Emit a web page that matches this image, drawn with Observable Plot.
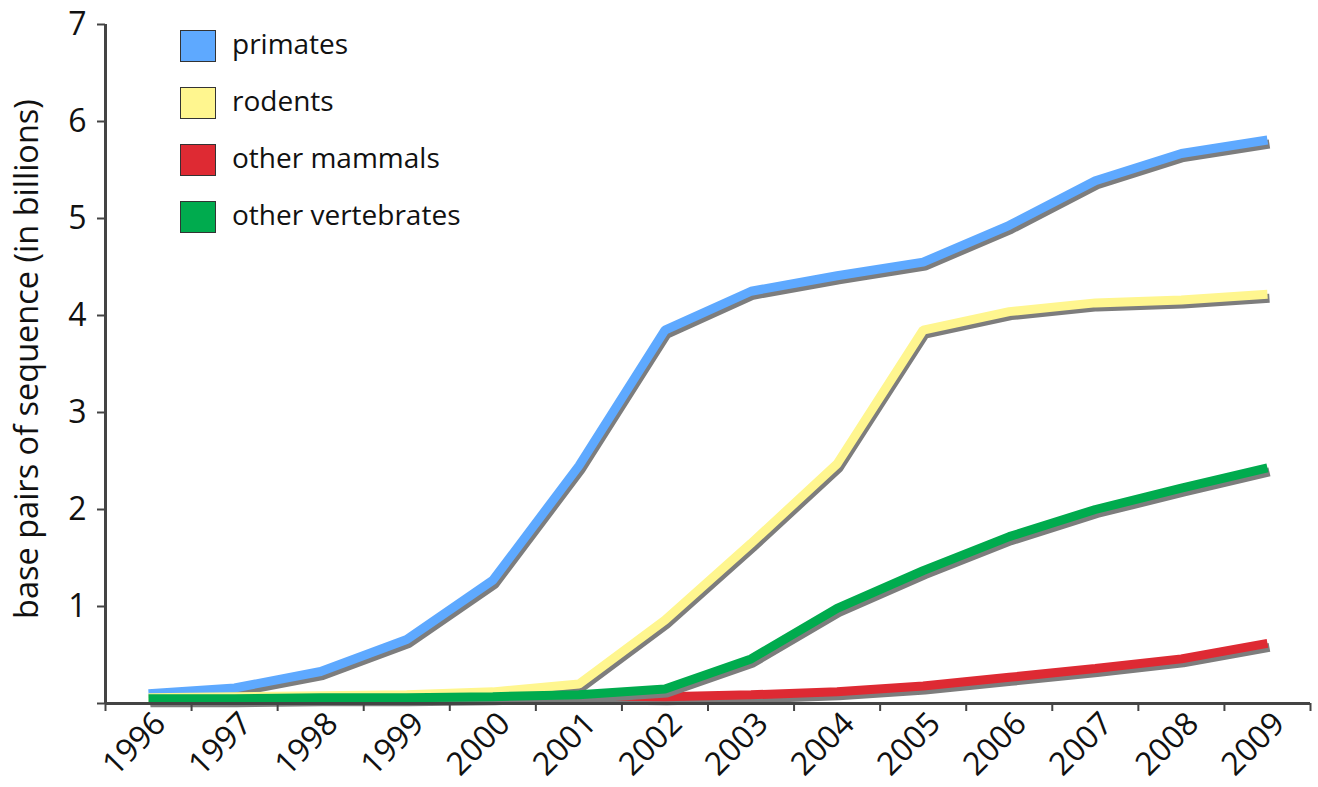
<!DOCTYPE html>
<html><head><meta charset="utf-8">
<script src="https://cdn.jsdelivr.net/npm/d3@7"></script>
<script src="https://cdn.jsdelivr.net/npm/@observablehq/plot@0.6"></script>
<style>
body{margin:0;background:#fff;}
#wrap{position:relative;width:1318px;height:787px;font-family:"Open Sans",sans-serif;}
.legend{position:absolute;left:180px;top:30px;}
.item{position:absolute;left:0;height:32px;white-space:nowrap;}
.sw{position:absolute;left:0;top:0;width:34px;height:30px;border:1px solid #333;}
.lb{position:absolute;left:52px;top:-3px;font-size:28px;line-height:32px;color:#111;}
</style></head><body><div id="wrap"></div>
<script>
const years = [1996,1997,1998,1999,2000,2001,2002,2003,2004,2005,2006,2007,2008,2009];
const seriesNames = ["primates","rodents","other mammals","other vertebrates"];
const seriesColors = ["#5ea9ff","#fff68f","#de2a33","#00ab4e"];
const primates = [0.10,0.16,0.33,0.66,1.27,2.45,3.85,4.25,4.41,4.55,4.93,5.39,5.67,5.81];
const rodents = [0.06,0.07,0.08,0.09,0.12,0.20,0.86,1.65,2.47,3.85,4.04,4.13,4.16,4.22];
const otherMammalsYears = [2001,2002,2003,2004,2005,2006,2007,2008,2009];
const otherMammals = [0.08,0.07,0.09,0.12,0.18,0.27,0.36,0.46,0.62];
const otherVertebrates = [0.05,0.05,0.06,0.06,0.07,0.09,0.15,0.46,0.98,1.37,1.72,2.00,2.22,2.43];
const yTicks = [0,1,2,3,4,5,6,7];
const yLabel = "base pairs of sequence (in billions)";

const rows = (ys, vs, name) => ys.map((y, i) => ({year: y, value: vs[i], name}));
const seriesData = [
  rows(years, primates, seriesNames[0]),
  rows(years, rodents, seriesNames[1]),
  rows(otherMammalsYears, otherMammals, seriesNames[2]),
  rows(years, otherVertebrates, seriesNames[3])
];
const halfTicks = d3.range(years[0] - 0.5, years[years.length-1] + 1, 1);

const marks = [];
seriesData.forEach((data, k) => {
  marks.push(Plot.line(data, {x: "year", y: "value", stroke: "#7d7d7d", strokeWidth: 9, dx: 2, dy: 4, strokeLinejoin: "miter", strokeLinecap: "butt"}));
  marks.push(Plot.line(data, {x: "year", y: "value", stroke: seriesColors[k], strokeWidth: 9, strokeLinejoin: "miter", strokeLinecap: "butt"}));
});

const chart = Plot.plot({
  width: 1318, height: 787,
  marginLeft: 105, marginRight: 8, marginTop: 24, marginBottom: 84,
  style: {fontFamily: "Open Sans, sans-serif", background: "#fff"},
  x: {type: "linear", domain: [years[0]-0.5, years[years.length-1]+0.5]},
  y: {domain: [0, 7]},
  marks: [
    ...marks,
    Plot.ruleX([years[0]-0.5], {y1: 0, y2: 7, stroke: "#444", strokeWidth: 3}),
    Plot.ruleY([0], {stroke: "#444", strokeWidth: 3}),
    Plot.axisY({ticks: yTicks, tickSize: 8, tickFormat: d => d === 0 ? "" : String(d), fontSize: 32, tickPadding: 11, stroke: "#444", strokeWidth: 2, color: "#111", label: null}),
    Plot.axisX({ticks: halfTicks, tickSize: 8, tickFormat: () => "", stroke: "#444", strokeWidth: 2, label: null}),
    Plot.text(years, {x: d => d, frameAnchor: "bottom", text: d => String(d), rotate: -45, textAnchor: "end", lineAnchor: "bottom", dx: 19, dy: 22, fontSize: 32, fill: "#111"}),
    Plot.text([yLabel], {frameAnchor: "left", textAnchor: "middle", rotate: -90, dx: -78, dy: -5, fontSize: 32.5, fill: "#111"})
  ]
});
const wrap = document.getElementById("wrap");
wrap.appendChild(chart);

const legend = document.createElement("div");
legend.className = "legend";
seriesNames.forEach((n, i) => {
  const it = document.createElement("div");
  it.className = "item";
  it.style.top = (i * 57) + "px";
  it.innerHTML = `<div class="sw" style="background:${seriesColors[i]}"></div><div class="lb">${n}</div>`;
  legend.appendChild(it);
});
wrap.appendChild(legend);
</script>
</body></html>
